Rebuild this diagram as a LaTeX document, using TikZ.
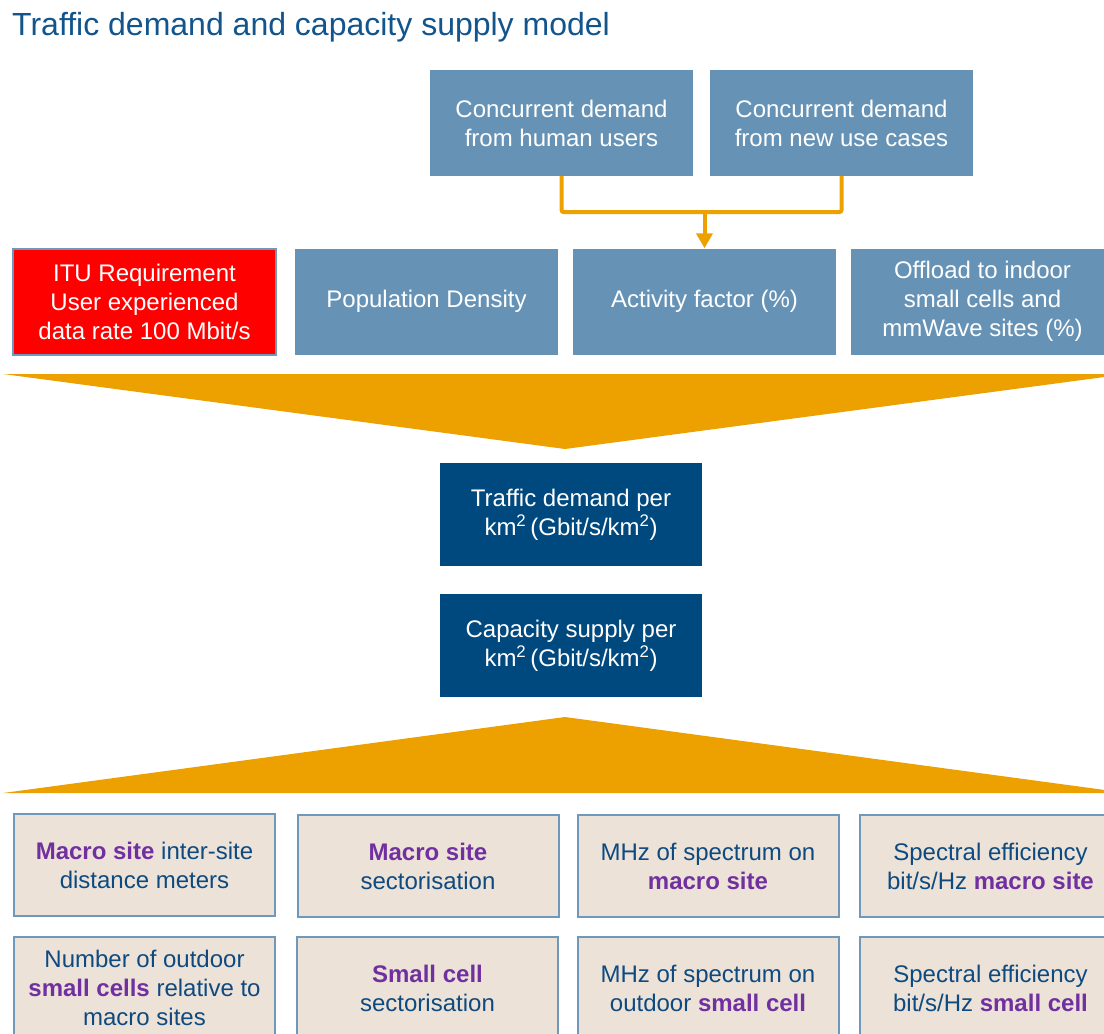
\documentclass[tikz,border=0pt]{standalone}
\usepackage{fontspec}
\setmainfont{Liberation Sans}
\usetikzlibrary{arrows.meta}
\definecolor{titleblue}{RGB}{18,84,140}
\definecolor{boxblue}{RGB}{102,147,181}
\definecolor{navy}{RGB}{0,73,126}
\definecolor{beige}{RGB}{236,226,215}
\definecolor{edgeblue}{RGB}{112,152,186}
\definecolor{inkblue}{RGB}{14,74,128}
\definecolor{purp}{RGB}{112,48,160}
\definecolor{amber}{RGB}{237,161,0}
\newcommand{\hl}[1]{\textbf{\color{purp}#1}}
\begin{document}
\begin{tikzpicture}[x=1pt, y=-1pt,
  every node/.style={font=\fontsize{24}{29}\selectfont, align=center, inner sep=0pt},
  inbox/.style={fill=boxblue, text=white, minimum width=263pt, minimum height=106pt},
  reqbox/.style={inbox, fill=red, draw=edgeblue, line width=2pt},
  keybox/.style={fill=navy, text=white, minimum width=262pt, minimum height=103pt},
  supbox/.style={fill=beige, draw=edgeblue, line width=2pt, text=inkblue, minimum width=261pt, minimum height=102pt},
  feed/.style={draw=amber, line width=4pt, rounded corners=2pt}]
  \useasboundingbox (0,0) rectangle (1104,1034);
  \clip (0,0) rectangle (1104,1034);
  \node[anchor=base west, font=\fontsize{32}{38}\selectfont, text=titleblue] (title) at (12,35) {Traffic demand and capacity supply model};
  \node[inbox] (hum) at (561.5,123) {Concurrent demand\\ from human users};
  \node[inbox] (new) at (841.5,123) {Concurrent demand\\ from new use cases};
  \node[reqbox] (itu) at (144.5,301.5) {ITU Requirement\\ User experienced\\ data rate 100 Mbit/s};
  \node[inbox] (pop) at (426.5,301.5) {Population Density};
  \node[inbox] (act) at (704.5,301.5) {Activity factor (\%)};
  \node[inbox] (off) at (982.5,301.5) {Offload to indoor\\ small cells and\\ mmWave sites (\%)};
  \coordinate (jn) at (704.5,212);
  \draw[feed] (hum.south) |- (jn) -| (new.south);
  \draw[feed, -{Triangle[width=16pt,length=15pt]}] (jn) -- (act.north);
  \fill[amber] (3,374) -- (1127,374) -- (565,449) -- cycle;
  \node[keybox] (dem) at (571,514.5) {Traffic demand per\\ km\textsuperscript{2}\,(Gbit/s/km\textsuperscript{2})};
  \node[keybox] (cap) at (571,645.5) {Capacity supply per\\ km\textsuperscript{2}\,(Gbit/s/km\textsuperscript{2})};
  \fill[amber] (3,793) -- (1127,793) -- (565,717) -- cycle;
  \node[supbox] (msd) at (144.5,865) {\hl{Macro site} inter-site\\ distance meters};
  \node[supbox] (msec) at (428,866) {\hl{Macro site}\\ sectorisation};
  \node[supbox] (mspec) at (708,866) {MHz of spectrum on\\ \hl{macro site}};
  \node[supbox] (meff) at (990.5,866) {Spectral efficiency\\ bit/s/Hz \hl{macro site}};
  \node[supbox] (snum) at (144.5,988) {Number of outdoor\\ \hl{small cells} relative to\\ macro sites};
  \node[supbox] (ssec) at (427.5,988) {\hl{Small cell}\\ sectorisation};
  \node[supbox] (sspec) at (708,988) {MHz of spectrum on\\ outdoor \hl{small cell}};
  \node[supbox] (seff) at (990.5,988) {Spectral efficiency\\ bit/s/Hz \hl{small cell}};
\end{tikzpicture}
\end{document}
